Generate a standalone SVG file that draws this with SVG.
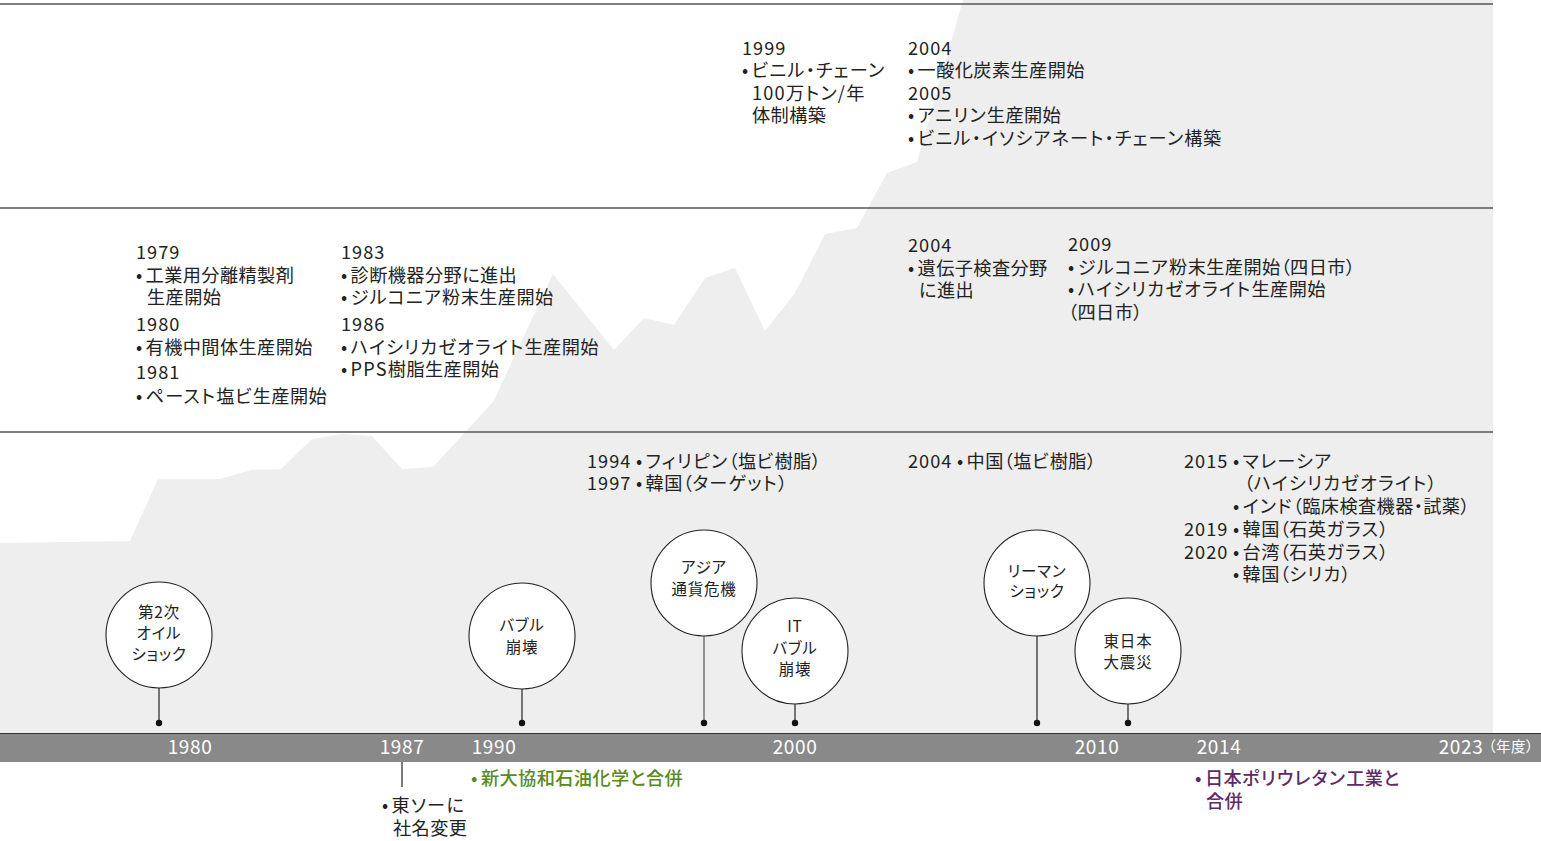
<svg xmlns="http://www.w3.org/2000/svg" width="1541" height="841" viewBox="0 0 1541 841">
<style>
text { font-family: "Noto Sans CJK JP", "Noto Sans", sans-serif; font-feature-settings: "palt"; }
.t { font-size: 18.2px; fill: #222; letter-spacing: 0.4px; }
.k { letter-spacing: 1.2px; }
.y { letter-spacing: 1px; }
.c { font-size: 15.5px; fill: #222; text-anchor: middle; letter-spacing: 0.8px; }
.ax { font-size: 19px; fill: #fff; text-anchor: middle; letter-spacing: 0.6px; font-weight: 400; }
.hl { stroke: #555; stroke-width: 1.5; }
.bub { fill: #fff; stroke: #222; stroke-width: 1.1; }
.stem { stroke: #222; stroke-width: 1.2; }
.dot { fill: #111; }
.g { fill: #5a8a1c; font-weight: 500; }
.p { fill: #5e2a68; font-weight: 500; }
</style>
<rect x="0" y="0" width="1541" height="841" fill="#fff"/>
<polygon id="area" fill="#eeeeee" points="0,543 130,541 158,479 220,479 251,470 281,469 312,439 342,434 372,436 402,469 433,467 493,402 553,274 614,350 644,318 674,325 705,278 735,268 765,331 795,293 825,234 857,228 887,173 917,162 963,0 1493,0 1493,733 0,733"/>
<g id="bands">
<line class="hl" x1="0" y1="4" x2="1493" y2="4"/>
<line class="hl" x1="0" y1="208" x2="1493" y2="208"/>
<line class="hl" x1="0" y1="432" x2="1493" y2="432"/>
</g>
<g id="axis">
<rect x="0" y="733" width="1541" height="29" fill="#898989"/>
<line x1="0" y1="733.5" x2="1541" y2="733.5" stroke="#333" stroke-width="1.2"/>
<text class="ax" x="190" y="754">1980</text>
<text class="ax" x="402" y="754">1987</text>
<text class="ax" x="494" y="754">1990</text>
<text class="ax" x="795" y="754">2000</text>
<text class="ax" x="1097" y="754">2010</text>
<text class="ax" x="1219" y="754">2014</text>
<text class="ax" x="1461" y="754">2023</text>
<text class="ax" x="1511" y="752" style="font-size:14.5px;letter-spacing:0.5px">（年度）</text>
</g>
<g id="connectors">
<line class="stem" x1="159" y1="688" x2="159" y2="723"/>
<line class="stem" x1="522" y1="689" x2="522" y2="723"/>
<line class="stem" x1="704" y1="636" x2="704" y2="723" style="stroke:#555"/>
<line class="stem" x1="795" y1="704" x2="795" y2="723"/>
<line class="stem" x1="1037" y1="636" x2="1037" y2="723"/>
<line class="stem" x1="1128" y1="704" x2="1128" y2="723"/>
<circle class="dot" cx="159" cy="723" r="3.2"/>
<circle class="dot" cx="522" cy="723" r="3.2"/>
<circle class="dot" cx="704" cy="723" r="3.2"/>
<circle class="dot" cx="795" cy="723" r="3.2"/>
<circle class="dot" cx="1037" cy="723" r="3.2"/>
<circle class="dot" cx="1128" cy="723" r="3.2"/>
<line class="stem" x1="402" y1="762" x2="402" y2="787"/>
</g>
<g id="ev-oil">
<circle class="bub" cx="159" cy="635" r="53"/>
<text class="c" x="159" y="618">第2次</text>
<text class="c" x="159" y="639">オイル</text>
<text class="c" x="159" y="660">ショック</text>
</g>
<g id="ev-bubble">
<circle class="bub" cx="522" cy="636" r="53"/>
<text class="c" x="522" y="631">バブル</text>
<text class="c" x="522" y="653">崩壊</text>
</g>
<g id="ev-asia">
<circle class="bub" cx="704" cy="583" r="53"/>
<text class="c" x="704" y="573">アジア</text>
<text class="c" x="704" y="595">通貨危機</text>
</g>
<g id="ev-it">
<circle class="bub" cx="795" cy="651" r="53"/>
<text class="c" x="795" y="632">IT</text>
<text class="c" x="795" y="654">バブル</text>
<text class="c" x="795" y="675">崩壊</text>
</g>
<g id="ev-lehman">
<circle class="bub" cx="1037" cy="583" r="53"/>
<text class="c" x="1037" y="577">リーマン</text>
<text class="c" x="1037" y="597">ショック</text>
</g>
<g id="ev-quake">
<circle class="bub" cx="1128" cy="651" r="53"/>
<text class="c" x="1128" y="647">東日本</text>
<text class="c" x="1128" y="668">大震災</text>
</g>
<g id="top-1999">
<text class="t y" x="742" y="55">1999</text>
<text class="t" x="742" y="77">•<tspan dx="3" class="k">ビニル・チェーン</tspan></text>
<text class="t k" x="752" y="100">100万トン/年</text>
<text class="t" x="752" y="122">体制構築</text>
</g>
<g id="top-2004">
<text class="t y" x="908" y="55">2004</text>
<text class="t" x="908" y="77">•<tspan dx="3">一酸化炭素生産開始</tspan></text>
<text class="t y" x="908" y="100">2005</text>
<text class="t" x="908" y="122">•<tspan dx="3" class="k">アニリン</tspan>生産開始</text>
<text class="t" x="908" y="145">•<tspan dx="3" class="k">ビニル・イソシアネート・チェーン</tspan>構築</text>
</g>
<g id="mid-1979">
<text class="t y" x="136" y="259">1979</text>
<text class="t" x="136" y="282">•<tspan dx="3">工業用分離精製剤</tspan></text>
<text class="t" x="147" y="304">生産開始</text>
<text class="t y" x="136" y="331">1980</text>
<text class="t" x="136" y="354">•<tspan dx="3">有機中間体生産開始</tspan></text>
<text class="t y" x="136" y="379">1981</text>
<text class="t" x="136" y="403">•<tspan dx="3" class="k">ペースト</tspan>塩<tspan class="k">ビ</tspan>生産開始</text>
</g>
<g id="mid-1983">
<text class="t y" x="341" y="259">1983</text>
<text class="t" x="341" y="282">•<tspan dx="3">診断機器分野に進出</tspan></text>
<text class="t" x="341" y="304">•<tspan dx="3" class="k">ジルコニア</tspan>粉末生産開始</text>
<text class="t y" x="341" y="331">1986</text>
<text class="t" x="341" y="354">•<tspan dx="3" class="k">ハイシリカゼオライト</tspan>生産開始</text>
<text class="t" x="341" y="376">•<tspan dx="3" class="k">PPS</tspan>樹脂生産開始</text>
</g>
<g id="mid-2004">
<text class="t y" x="908" y="252">2004</text>
<text class="t" x="908" y="275">•<tspan dx="3">遺伝子検査分野</tspan></text>
<text class="t" x="919" y="297">に進出</text>
</g>
<g id="mid-2009">
<text class="t y" x="1068" y="251">2009</text>
<text class="t" x="1068" y="274">•<tspan dx="3" class="k">ジルコニア</tspan>粉末生産開始（四日市）</text>
<text class="t" x="1068" y="296">•<tspan dx="3" class="k">ハイシリカゼオライト</tspan>生産開始</text>
<text class="t" x="1068" y="319">（四日市）</text>
</g>
<g id="bot-1994">
<text class="t y" x="587" y="468">1994</text>
<text class="t" x="636" y="468">•<tspan dx="3" class="k">フィリピン</tspan>（塩<tspan class="k">ビ</tspan>樹脂）</text>
<text class="t y" x="587" y="490">1997</text>
<text class="t" x="636" y="490">•<tspan dx="3">韓国</tspan>（<tspan class="k">ターゲット</tspan>）</text>
</g>
<g id="bot-2004">
<text class="t y" x="908" y="468">2004</text>
<text class="t" x="957" y="468">•<tspan dx="3">中国</tspan>（塩<tspan class="k">ビ</tspan>樹脂）</text>
</g>
<g id="bot-2015">
<text class="t y" x="1184" y="468">2015</text>
<text class="t" x="1233" y="468">•<tspan dx="3" class="k">マレーシア</tspan></text>
<text class="t" x="1244" y="490">（<tspan class="k">ハイシリカゼオライト</tspan>）</text>
<text class="t" x="1233" y="513">•<tspan dx="3" class="k">インド</tspan>（臨床検査機器・試薬）</text>
<text class="t y" x="1184" y="536">2019</text>
<text class="t" x="1233" y="536">•<tspan dx="3">韓国</tspan>（石英<tspan class="k">ガラス</tspan>）</text>
<text class="t y" x="1184" y="559">2020</text>
<text class="t" x="1233" y="559">•<tspan dx="3">台湾</tspan>（石英<tspan class="k">ガラス</tspan>）</text>
<text class="t" x="1233" y="581">•<tspan dx="3">韓国</tspan>（<tspan class="k">シリカ</tspan>）</text>
</g>
<g id="corp-1987">
<text class="t" x="382" y="812">•<tspan dx="3" class="k">東ソー</tspan>に</text>
<text class="t" x="393" y="835">社名変更</text>
</g>
<g id="corp-1990">
<text class="t g" x="471" y="785">•<tspan dx="3">新大協和石油化学と合併</tspan></text>
</g>
<g id="corp-2014">
<text class="t p" x="1195" y="785">•<tspan dx="3">日本<tspan class="k">ポリウレタン</tspan>工業と</tspan></text>
<text class="t p" x="1206" y="808">合併</text>
</g>
</svg>
